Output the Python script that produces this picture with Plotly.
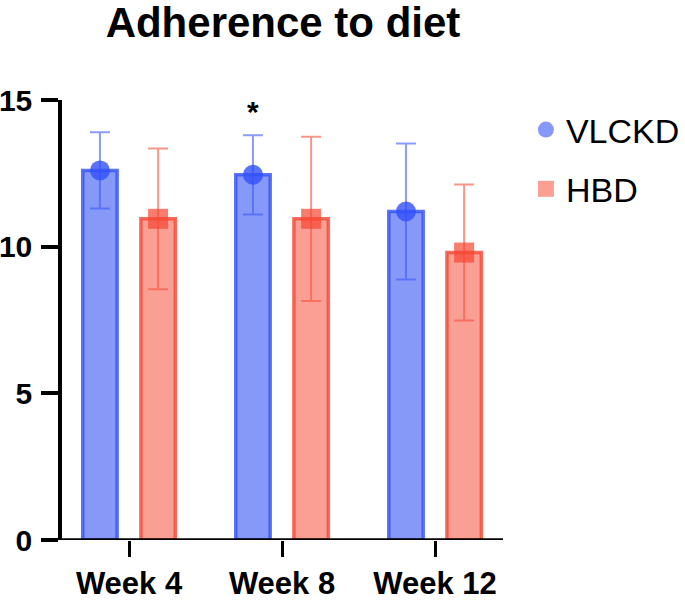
import plotly.graph_objects as go

categories = ["Week 4", "Week 8", "Week 12"]
vlckd_mean = [12.6, 12.45, 11.2]
vlckd_sd = [1.3, 1.35, 2.32]
hbd_mean = [10.95, 10.95, 9.8]
hbd_sd = [2.4, 2.8, 2.32]
y_ticks = [0, 5, 10, 15]
series_names = ["VLCKD", "HBD"]
sig_label = "*"
sig_index = 1

FONT = "Liberation Sans, Arial, Helvetica, sans-serif"
BLUE_FILL = "rgba(60,90,245,0.62)"
BLUE_LINE = "rgba(50,80,245,0.8)"
BLUE_MARK = "rgba(50,80,250,0.8)"
RED_FILL = "rgba(245,80,60,0.55)"
RED_LINE = "rgba(245,70,50,0.8)"
RED_MARK = "rgba(245,70,50,0.7)"

idx = list(range(len(categories)))
off = 0.19
bw = 0.225
xv = [i - off for i in idx]
xh = [i + off for i in idx]

fig = go.Figure()
fig.add_trace(go.Bar(x=xv, y=vlckd_mean, width=bw, marker=dict(color=BLUE_FILL, line=dict(color=BLUE_LINE, width=3.5)),
                     showlegend=False, hoverinfo="skip"))
fig.add_trace(go.Bar(x=xh, y=hbd_mean, width=bw, marker=dict(color=RED_FILL, line=dict(color=RED_LINE, width=3.5)),
                     showlegend=False, hoverinfo="skip"))
fig.add_trace(go.Scatter(x=xv, y=vlckd_mean, mode="markers", showlegend=False,
                         marker=dict(symbol="circle", size=20, color=BLUE_MARK),
                         error_y=dict(type="data", array=vlckd_sd, visible=True, color="rgba(60,90,245,0.6)",
                                      thickness=2, width=10)))
fig.add_trace(go.Scatter(x=xh, y=hbd_mean, mode="markers", showlegend=False,
                         marker=dict(symbol="square", size=20, color=RED_MARK),
                         error_y=dict(type="data", array=hbd_sd, visible=True, color="rgba(245,80,60,0.6)",
                                      thickness=2, width=10)))
# legend entries
fig.add_trace(go.Scatter(x=[None], y=[None], mode="markers", name=series_names[0], legendgroup="a",
                         marker=dict(symbol="circle", size=20, color=BLUE_FILL)))
fig.add_trace(go.Scatter(x=[None], y=[None], mode="markers", name=series_names[1], legendgroup="b",
                         marker=dict(symbol="square", size=20, color=RED_FILL)))

fig.add_annotation(x=xv[sig_index], y=14.6, text=sig_label, showarrow=False,
                   font=dict(family=FONT, size=30, color="black", weight="bold"), yanchor="middle")

# x-axis baseline extending left of the y axis
fig.add_shape(type="line", xref="paper", yref="y", x0=-18 / 441, x1=1, y0=0, y1=0,
              line=dict(color="black", width=3.5), layer="above")

fig.update_layout(
    width=685, height=601,
    margin=dict(l=62, r=182, t=100, b=61, autoexpand=False),
    plot_bgcolor="white", paper_bgcolor="white",
    barmode="overlay",
    title=dict(text="Adherence to diet", x=283 / 685, xanchor="center", xref="container", yref="container",
               y=1 - 22 / 601, yanchor="middle",
               font=dict(family=FONT, size=42, color="black", weight="bold")),
    xaxis=dict(range=[-0.438, 2.444], tickmode="array", tickvals=idx, ticktext=categories,
               showgrid=False, zeroline=False, showline=False, ticks="outside", ticklen=16,
               tickwidth=3, tickcolor="black", automargin=False,
               tickfont=dict(family=FONT, size=31, color="black", weight="bold")),
    yaxis=dict(range=[0, 15], tickvals=y_ticks, showgrid=False, zeroline=False, showline=True,
               linecolor="black", linewidth=3.5, ticks="outside", ticklen=17, tickwidth=3.5,
               tickcolor="black", ticklabelstandoff=3, automargin=False,
               tickfont=dict(family=FONT, size=30, color="black", weight="bold")),
    legend=dict(x=1.052, xanchor="left", y=1 - 1 / 440, yanchor="top", tracegroupgap=12,
                font=dict(family=FONT, size=34, color="black"), bgcolor="rgba(0,0,0,0)"),
    showlegend=True,
)

fig.write_html("out.html", config={"displayModeBar": False},
               post_script="document.body.style.margin='0';document.body.style.padding='0';")
